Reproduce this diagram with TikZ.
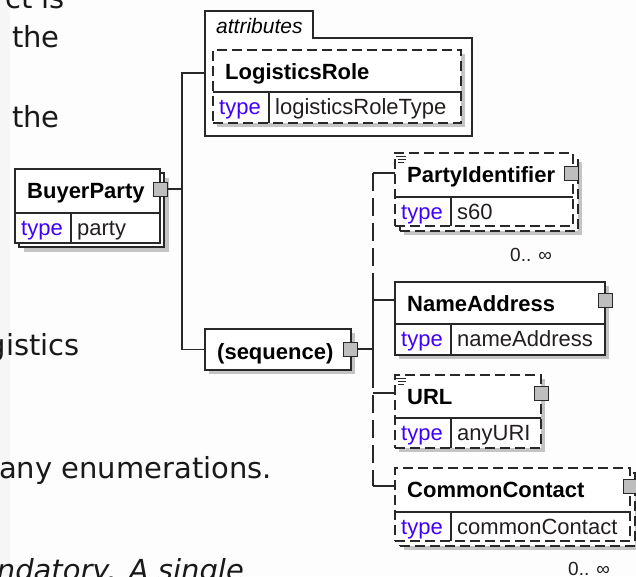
\documentclass[tikz,border=0pt]{standalone}
\usepackage{fontspec}
\setmainfont{Liberation Sans}
\newfontfamily\bgfont{DejaVu Sans}
\usetikzlibrary{shadows}
\definecolor{linec}{RGB}{40,40,40}
\definecolor{shadc}{RGB}{196,196,196}
\definecolor{typec}{RGB}{64,0,255}
\definecolor{valc}{RGB}{35,30,30}
\definecolor{expc}{RGB}{190,190,190}
\definecolor{bgc}{RGB}{253,253,253}
\definecolor{stripc}{RGB}{246,246,246}
\definecolor{bgtext}{RGB}{25,25,25}
\newcommand\xelem[9]{%
  \node[#7, minimum width=#4pt, minimum height={(#5+#6)*1pt}] (#1) at (#2,#3) {};
  \draw[inner] (#2,{#3+#5}) -- ({#2+#4},{#3+#5});
  \draw[inner] ({#2+56},{#3+#5}) -- ({#2+56},{#3+#5+#6});
  \node[ttl] (#1-t) at ({#2+12},{#3+29}) {#8};
  \node[typ] (#1-k) at ({#2+6},{#3+#5+22}) {type};
  \node[val] (#1-v) at ({#2+62},{#3+#5+22}) {#9};
}
\begin{document}
\begin{tikzpicture}[x=1pt,y=-1pt,
  elbox/.style={draw=linec, fill=white, line width=1.3pt, inner sep=0pt, outer sep=0pt, anchor=north west},
  optbox/.style={elbox, dash pattern=on 10pt off 5pt},
  shad/.style={drop shadow={shadow xshift=#1pt, shadow yshift=-#1pt, fill=shadc, opacity=1, draw=none}},
  shad/.default=4,
  inner/.style={draw=linec, line width=1.3pt},
  ttl/.style={anchor=base west, inner sep=0pt, font=\fontsize{22}{24}\selectfont\bfseries, text=black},
  typ/.style={anchor=base west, inner sep=0pt, font=\fontsize{22}{24}\selectfont, text=typec},
  val/.style={anchor=base west, inner sep=0pt, font=\fontsize{22}{24}\selectfont, text=valc},
  occ/.style={anchor=base west, inner sep=0pt, font=\fontsize{19}{21}\selectfont, text=valc},
  bgt/.style={inner sep=0pt, font=\bgfont\fontsize{29}{32}\selectfont, text=bgtext},
  expander/.style={draw=linec, fill=expc, line width=1pt, minimum size=14pt, inner sep=0pt, outer sep=0pt},
  conn/.style={draw=linec, line width=1.3pt},
  dconn/.style={conn, dash pattern=on 18pt off 7pt},
  docicon/.style={draw=linec, line width=0.8pt}
]
\useasboundingbox (0,0) rectangle (636,576);
\clip (0,0) rectangle (636,576);
\fill[bgc] (0,0) rectangle (636,576);
\fill[stripc] (0,0) rectangle (10,576);

% background text fragments
\node[bgt, anchor=base east] (b1) at (65,8) {ct is};
\node[bgt, anchor=base west] (b2) at (12,47) {the};
\node[bgt, anchor=base west] (b3) at (12,127) {the};
\node[bgt, anchor=base east] (b4) at (80,355) {gistics};
\node[bgt, anchor=base west] (b5) at (-1,478) {any enumerations.};
\node[bgt, anchor=base east, font=\bgfont\itshape\fontsize{29}{32}\selectfont] (b6) at (244,580) {ndatory. A single};

% attributes group
\draw[inner, fill=white] (205,136) -- (205,11) -- (313,11) -- (313,38) -- (472,38) -- (472,136) -- cycle;
\node[anchor=base west, inner sep=0pt, font=\fontsize{21}{23}\selectfont\itshape, text=black] (attrt) at (216,33) {attributes};
\coordinate (attrin) at (205,73);
\xelem{lr}{213}{50}{248}{42}{31}{optbox,shad}{LogisticsRole}{logisticsRoleType}

% BuyerParty
\node[elbox, shad=5, minimum width=145pt, minimum height=74pt] (bpback) at (19,173) {};
\xelem{bp}{15}{169}{145}{44}{30}{elbox}{BuyerParty}{party}

% sequence
\node[elbox, shad, minimum width=146pt, minimum height=41pt] (seq) at (205,329) {};
\node[ttl] (seqt) at (217,359) {(sequence)};

% PartyIdentifier
\node[optbox, shad, minimum width=178pt, minimum height=73pt] (piback) at (400,158) {};
\xelem{pi}{395}{153}{178}{44}{29}{optbox}{PartyIdentifier}{s60}
% NameAddress
\xelem{na}{395}{282}{210}{42}{31}{elbox,shad}{NameAddress}{nameAddress}
% URL
\xelem{url}{395}{375}{146}{43}{30}{optbox,shad}{URL}{anyURI}
% CommonContact
\node[optbox, shad, minimum width=235pt, minimum height=73pt] (ccback) at (400,473) {};
\xelem{cc}{395}{468}{235}{44}{29}{optbox}{CommonContact}{commonContact}

% documentation icons
\draw[docicon] (396,156) -- (406,156) (398,159) -- (406,159) (398,162) -- (404,162);
\draw[docicon] (396,378) -- (406,378) (398,381) -- (406,381) (398,384) -- (404,384);

% expanders
\node[expander] (bpx) at (160,189) {};
\node[expander] (seqx) at (350,349) {};
\node[expander] (pix) at (571,173) {};
\node[expander] (nax) at (605,300) {};
\node[expander] (urlx) at (541,393) {};
\node[expander] (ccx) at (630,486) {};

% connectors from BuyerParty
\coordinate (j1) at (182,189);
\draw[conn] (bpx.east) -- (j1);
\draw[conn] (attrin) -| (j1 |- seq.west) -- (seq.west);

% connectors from sequence
\coordinate (trunk) at (373,349);
\coordinate (t1) at (373,285);
\coordinate (t2) at (373,370);
\draw[conn] (seqx.east) -- (trunk);
\draw[dconn] (trunk |- pix) -- (t1);
\draw[conn] (t1) -- (t2);
\draw[dconn] (t2) -- (trunk |- ccx);
\draw[conn] (trunk |- pix) -- (pi.west |- pix);
\draw[conn] (trunk |- nax) -- (na.west |- nax);
\draw[conn] (trunk |- urlx) -- (url.west |- urlx);
\draw[conn] (trunk |- ccx) -- (cc.west |- ccx);

% occurrence labels
\node[occ] (pio) at (510,261) {0.. ∞};
\node[occ] (cco) at (568,575) {0.. ∞};
\end{tikzpicture}
\end{document}
